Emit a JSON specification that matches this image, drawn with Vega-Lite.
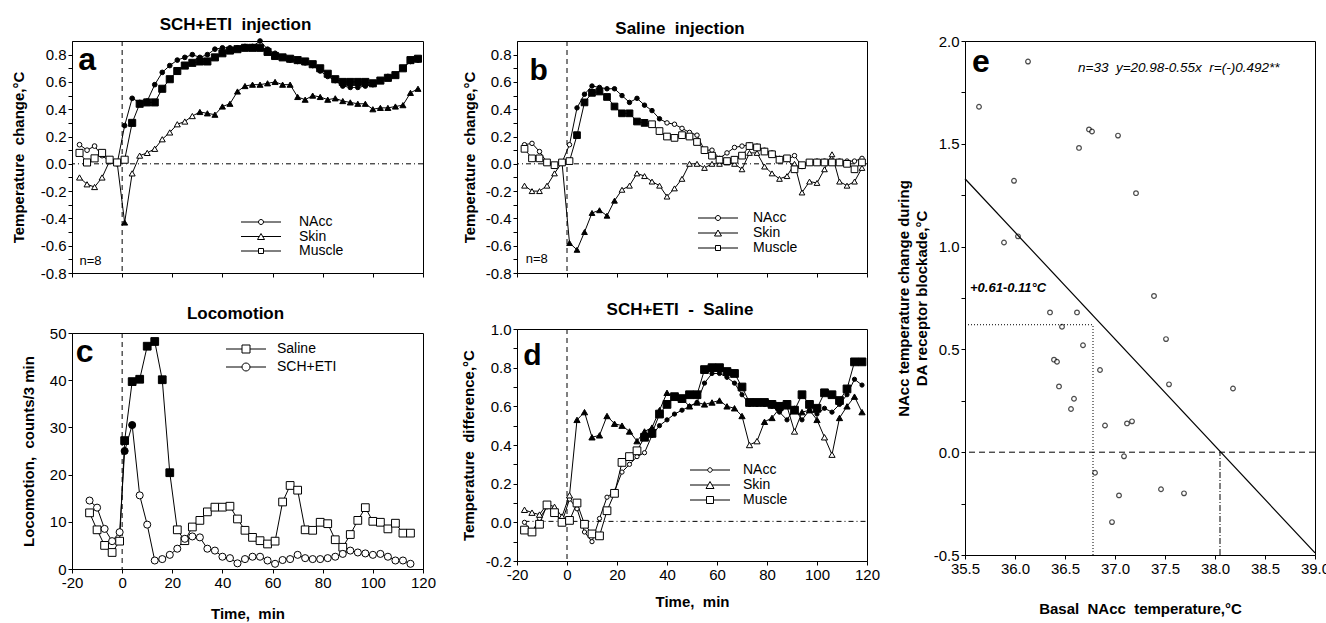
{
"$schema":"https://vega.github.io/schema/vega-lite/v6.json",
"padding":{"left":10,"top":12,"right":0,"bottom":0},
"datasets":{
"pa":[
{"s":"NAcc","t":-17,"v":0.14,"f":0},{"s":"NAcc","t":-14,"v":0.10,"f":0},{"s":"NAcc","t":-11,"v":0.13,"f":0},{"s":"NAcc","t":-8,"v":0.06,"f":0},{"s":"NAcc","t":-5,"v":0.02,"f":0},{"s":"NAcc","t":-2,"v":0.00,"f":0},{"s":"NAcc","t":1,"v":0.28,"f":1},{"s":"NAcc","t":4,"v":0.48,"f":1},{"s":"NAcc","t":7,"v":0.45,"f":1},{"s":"NAcc","t":10,"v":0.46,"f":1},{"s":"NAcc","t":13,"v":0.58,"f":1},{"s":"NAcc","t":16,"v":0.67,"f":1},{"s":"NAcc","t":19,"v":0.72,"f":1},{"s":"NAcc","t":22,"v":0.76,"f":1},{"s":"NAcc","t":25,"v":0.78,"f":1},{"s":"NAcc","t":28,"v":0.80,"f":1},{"s":"NAcc","t":31,"v":0.78,"f":1},{"s":"NAcc","t":34,"v":0.80,"f":1},{"s":"NAcc","t":37,"v":0.84,"f":1},{"s":"NAcc","t":40,"v":0.85,"f":1},{"s":"NAcc","t":43,"v":0.85,"f":1},{"s":"NAcc","t":46,"v":0.85,"f":1},{"s":"NAcc","t":49,"v":0.86,"f":1},{"s":"NAcc","t":52,"v":0.86,"f":1},{"s":"NAcc","t":55,"v":0.90,"f":1},{"s":"NAcc","t":58,"v":0.84,"f":1},{"s":"NAcc","t":61,"v":0.81,"f":1},{"s":"NAcc","t":64,"v":0.78,"f":1},{"s":"NAcc","t":67,"v":0.76,"f":1},{"s":"NAcc","t":70,"v":0.75,"f":1},{"s":"NAcc","t":73,"v":0.74,"f":1},{"s":"NAcc","t":76,"v":0.72,"f":1},{"s":"NAcc","t":79,"v":0.68,"f":1},{"s":"NAcc","t":82,"v":0.64,"f":1},{"s":"NAcc","t":85,"v":0.61,"f":1},{"s":"NAcc","t":88,"v":0.57,"f":1},{"s":"NAcc","t":91,"v":0.56,"f":1},{"s":"NAcc","t":94,"v":0.56,"f":1},{"s":"NAcc","t":97,"v":0.57,"f":1},{"s":"NAcc","t":100,"v":0.58,"f":1},{"s":"NAcc","t":103,"v":0.61,"f":1},{"s":"NAcc","t":106,"v":0.64,"f":1},{"s":"NAcc","t":109,"v":0.65,"f":1},{"s":"NAcc","t":112,"v":0.70,"f":1},{"s":"NAcc","t":115,"v":0.75,"f":1},{"s":"NAcc","t":118,"v":0.76,"f":1},
{"s":"Skin","t":-17,"v":-0.10,"f":0},{"s":"Skin","t":-14,"v":-0.15,"f":0},{"s":"Skin","t":-11,"v":-0.17,"f":0},{"s":"Skin","t":-8,"v":-0.10,"f":0},{"s":"Skin","t":-5,"v":0.02,"f":0},{"s":"Skin","t":-2,"v":0.01,"f":0},{"s":"Skin","t":1,"v":-0.43,"f":1},{"s":"Skin","t":4,"v":-0.07,"f":0},{"s":"Skin","t":7,"v":0.06,"f":0},{"s":"Skin","t":10,"v":0.08,"f":0},{"s":"Skin","t":13,"v":0.11,"f":0},{"s":"Skin","t":16,"v":0.18,"f":0},{"s":"Skin","t":19,"v":0.23,"f":0},{"s":"Skin","t":22,"v":0.29,"f":0},{"s":"Skin","t":25,"v":0.31,"f":0},{"s":"Skin","t":28,"v":0.35,"f":0},{"s":"Skin","t":31,"v":0.38,"f":1},{"s":"Skin","t":34,"v":0.37,"f":1},{"s":"Skin","t":37,"v":0.36,"f":1},{"s":"Skin","t":40,"v":0.42,"f":1},{"s":"Skin","t":43,"v":0.44,"f":1},{"s":"Skin","t":46,"v":0.53,"f":1},{"s":"Skin","t":49,"v":0.57,"f":1},{"s":"Skin","t":52,"v":0.58,"f":1},{"s":"Skin","t":55,"v":0.58,"f":1},{"s":"Skin","t":58,"v":0.59,"f":1},{"s":"Skin","t":61,"v":0.60,"f":1},{"s":"Skin","t":64,"v":0.58,"f":1},{"s":"Skin","t":67,"v":0.58,"f":1},{"s":"Skin","t":70,"v":0.49,"f":1},{"s":"Skin","t":73,"v":0.47,"f":1},{"s":"Skin","t":76,"v":0.50,"f":1},{"s":"Skin","t":79,"v":0.49,"f":1},{"s":"Skin","t":82,"v":0.47,"f":1},{"s":"Skin","t":85,"v":0.48,"f":1},{"s":"Skin","t":88,"v":0.46,"f":1},{"s":"Skin","t":91,"v":0.45,"f":1},{"s":"Skin","t":94,"v":0.44,"f":1},{"s":"Skin","t":97,"v":0.44,"f":1},{"s":"Skin","t":100,"v":0.40,"f":1},{"s":"Skin","t":103,"v":0.41,"f":1},{"s":"Skin","t":106,"v":0.41,"f":1},{"s":"Skin","t":109,"v":0.42,"f":1},{"s":"Skin","t":112,"v":0.43,"f":1},{"s":"Skin","t":115,"v":0.52,"f":1},{"s":"Skin","t":118,"v":0.55,"f":1},
{"s":"Muscle","t":-17,"v":0.08,"f":0},{"s":"Muscle","t":-14,"v":0.01,"f":0},{"s":"Muscle","t":-11,"v":0.04,"f":0},{"s":"Muscle","t":-8,"v":0.08,"f":0},{"s":"Muscle","t":-5,"v":0.03,"f":0},{"s":"Muscle","t":-2,"v":0.01,"f":0},{"s":"Muscle","t":1,"v":0.03,"f":0},{"s":"Muscle","t":4,"v":0.30,"f":1},{"s":"Muscle","t":7,"v":0.44,"f":1},{"s":"Muscle","t":10,"v":0.45,"f":1},{"s":"Muscle","t":13,"v":0.45,"f":1},{"s":"Muscle","t":16,"v":0.55,"f":1},{"s":"Muscle","t":19,"v":0.62,"f":1},{"s":"Muscle","t":22,"v":0.68,"f":1},{"s":"Muscle","t":25,"v":0.72,"f":1},{"s":"Muscle","t":28,"v":0.74,"f":1},{"s":"Muscle","t":31,"v":0.75,"f":1},{"s":"Muscle","t":34,"v":0.75,"f":1},{"s":"Muscle","t":37,"v":0.78,"f":1},{"s":"Muscle","t":40,"v":0.81,"f":1},{"s":"Muscle","t":43,"v":0.83,"f":1},{"s":"Muscle","t":46,"v":0.84,"f":1},{"s":"Muscle","t":49,"v":0.85,"f":1},{"s":"Muscle","t":52,"v":0.85,"f":1},{"s":"Muscle","t":55,"v":0.85,"f":1},{"s":"Muscle","t":58,"v":0.82,"f":1},{"s":"Muscle","t":61,"v":0.79,"f":1},{"s":"Muscle","t":64,"v":0.78,"f":1},{"s":"Muscle","t":67,"v":0.77,"f":1},{"s":"Muscle","t":70,"v":0.76,"f":1},{"s":"Muscle","t":73,"v":0.75,"f":1},{"s":"Muscle","t":76,"v":0.73,"f":1},{"s":"Muscle","t":79,"v":0.70,"f":1},{"s":"Muscle","t":82,"v":0.66,"f":1},{"s":"Muscle","t":85,"v":0.62,"f":1},{"s":"Muscle","t":88,"v":0.60,"f":1},{"s":"Muscle","t":91,"v":0.60,"f":1},{"s":"Muscle","t":94,"v":0.60,"f":1},{"s":"Muscle","t":97,"v":0.60,"f":1},{"s":"Muscle","t":100,"v":0.59,"f":1},{"s":"Muscle","t":103,"v":0.61,"f":1},{"s":"Muscle","t":106,"v":0.63,"f":1},{"s":"Muscle","t":109,"v":0.65,"f":1},{"s":"Muscle","t":112,"v":0.70,"f":1},{"s":"Muscle","t":115,"v":0.76,"f":1},{"s":"Muscle","t":118,"v":0.77,"f":1}
],
"pb":[
{"s":"NAcc","t":-17,"v":0.14,"f":0},{"s":"NAcc","t":-14,"v":0.15,"f":0},{"s":"NAcc","t":-11,"v":0.09,"f":0},{"s":"NAcc","t":-8,"v":0.01,"f":0},{"s":"NAcc","t":-5,"v":-0.01,"f":0},{"s":"NAcc","t":-2,"v":0.01,"f":0},{"s":"NAcc","t":1,"v":0.14,"f":0},{"s":"NAcc","t":4,"v":0.41,"f":1},{"s":"NAcc","t":7,"v":0.51,"f":1},{"s":"NAcc","t":10,"v":0.57,"f":1},{"s":"NAcc","t":13,"v":0.56,"f":1},{"s":"NAcc","t":16,"v":0.55,"f":1},{"s":"NAcc","t":19,"v":0.55,"f":1},{"s":"NAcc","t":22,"v":0.50,"f":1},{"s":"NAcc","t":25,"v":0.45,"f":1},{"s":"NAcc","t":28,"v":0.48,"f":1},{"s":"NAcc","t":31,"v":0.43,"f":1},{"s":"NAcc","t":34,"v":0.39,"f":1},{"s":"NAcc","t":37,"v":0.33,"f":1},{"s":"NAcc","t":40,"v":0.30,"f":0},{"s":"NAcc","t":43,"v":0.29,"f":0},{"s":"NAcc","t":46,"v":0.26,"f":0},{"s":"NAcc","t":49,"v":0.23,"f":0},{"s":"NAcc","t":52,"v":0.21,"f":0},{"s":"NAcc","t":55,"v":0.10,"f":0},{"s":"NAcc","t":58,"v":0.10,"f":0},{"s":"NAcc","t":61,"v":0.04,"f":0},{"s":"NAcc","t":64,"v":0.08,"f":0},{"s":"NAcc","t":67,"v":0.12,"f":0},{"s":"NAcc","t":70,"v":0.13,"f":0},{"s":"NAcc","t":73,"v":0.14,"f":0},{"s":"NAcc","t":76,"v":0.13,"f":0},{"s":"NAcc","t":79,"v":0.10,"f":0},{"s":"NAcc","t":82,"v":0.08,"f":0},{"s":"NAcc","t":85,"v":0.04,"f":0},{"s":"NAcc","t":88,"v":0.03,"f":0},{"s":"NAcc","t":91,"v":0.06,"f":0},{"s":"NAcc","t":94,"v":-0.02,"f":0},{"s":"NAcc","t":97,"v":0.01,"f":0},{"s":"NAcc","t":100,"v":0.02,"f":0},{"s":"NAcc","t":103,"v":0.02,"f":0},{"s":"NAcc","t":106,"v":0.02,"f":0},{"s":"NAcc","t":109,"v":0.02,"f":0},{"s":"NAcc","t":112,"v":0.02,"f":0},{"s":"NAcc","t":115,"v":0.02,"f":0},{"s":"NAcc","t":118,"v":0.04,"f":0},
{"s":"Skin","t":-17,"v":-0.16,"f":0},{"s":"Skin","t":-14,"v":-0.20,"f":0},{"s":"Skin","t":-11,"v":-0.20,"f":0},{"s":"Skin","t":-8,"v":-0.16,"f":0},{"s":"Skin","t":-5,"v":-0.07,"f":0},{"s":"Skin","t":-2,"v":0.01,"f":0},{"s":"Skin","t":1,"v":-0.58,"f":1},{"s":"Skin","t":4,"v":-0.63,"f":1},{"s":"Skin","t":7,"v":-0.50,"f":1},{"s":"Skin","t":10,"v":-0.36,"f":1},{"s":"Skin","t":13,"v":-0.34,"f":1},{"s":"Skin","t":16,"v":-0.38,"f":1},{"s":"Skin","t":19,"v":-0.27,"f":1},{"s":"Skin","t":22,"v":-0.19,"f":0},{"s":"Skin","t":25,"v":-0.16,"f":0},{"s":"Skin","t":28,"v":-0.07,"f":0},{"s":"Skin","t":31,"v":-0.09,"f":0},{"s":"Skin","t":34,"v":-0.13,"f":0},{"s":"Skin","t":37,"v":-0.16,"f":0},{"s":"Skin","t":40,"v":-0.24,"f":0},{"s":"Skin","t":43,"v":-0.18,"f":0},{"s":"Skin","t":46,"v":-0.11,"f":0},{"s":"Skin","t":49,"v":0.00,"f":0},{"s":"Skin","t":52,"v":0.00,"f":0},{"s":"Skin","t":55,"v":-0.03,"f":0},{"s":"Skin","t":58,"v":0.00,"f":0},{"s":"Skin","t":61,"v":0.00,"f":0},{"s":"Skin","t":64,"v":0.01,"f":0},{"s":"Skin","t":67,"v":0.00,"f":0},{"s":"Skin","t":70,"v":-0.04,"f":0},{"s":"Skin","t":73,"v":0.08,"f":0},{"s":"Skin","t":76,"v":0.08,"f":0},{"s":"Skin","t":79,"v":-0.02,"f":0},{"s":"Skin","t":82,"v":-0.07,"f":0},{"s":"Skin","t":85,"v":-0.11,"f":0},{"s":"Skin","t":88,"v":-0.09,"f":0},{"s":"Skin","t":91,"v":0.00,"f":0},{"s":"Skin","t":94,"v":-0.21,"f":0},{"s":"Skin","t":97,"v":-0.13,"f":0},{"s":"Skin","t":100,"v":-0.14,"f":0},{"s":"Skin","t":103,"v":-0.04,"f":0},{"s":"Skin","t":106,"v":0.07,"f":0},{"s":"Skin","t":109,"v":-0.13,"f":0},{"s":"Skin","t":112,"v":-0.16,"f":0},{"s":"Skin","t":115,"v":-0.13,"f":0},{"s":"Skin","t":118,"v":-0.03,"f":0},
{"s":"Muscle","t":-17,"v":0.11,"f":0},{"s":"Muscle","t":-14,"v":0.04,"f":0},{"s":"Muscle","t":-11,"v":0.04,"f":0},{"s":"Muscle","t":-8,"v":0.01,"f":0},{"s":"Muscle","t":-5,"v":-0.01,"f":0},{"s":"Muscle","t":-2,"v":0.01,"f":0},{"s":"Muscle","t":1,"v":0.02,"f":0},{"s":"Muscle","t":4,"v":0.21,"f":1},{"s":"Muscle","t":7,"v":0.45,"f":1},{"s":"Muscle","t":10,"v":0.52,"f":1},{"s":"Muscle","t":13,"v":0.53,"f":1},{"s":"Muscle","t":16,"v":0.49,"f":1},{"s":"Muscle","t":19,"v":0.42,"f":1},{"s":"Muscle","t":22,"v":0.37,"f":1},{"s":"Muscle","t":25,"v":0.37,"f":1},{"s":"Muscle","t":28,"v":0.31,"f":1},{"s":"Muscle","t":31,"v":0.30,"f":1},{"s":"Muscle","t":34,"v":0.29,"f":0},{"s":"Muscle","t":37,"v":0.24,"f":0},{"s":"Muscle","t":40,"v":0.20,"f":0},{"s":"Muscle","t":43,"v":0.19,"f":0},{"s":"Muscle","t":46,"v":0.21,"f":0},{"s":"Muscle","t":49,"v":0.20,"f":0},{"s":"Muscle","t":52,"v":0.16,"f":0},{"s":"Muscle","t":55,"v":0.10,"f":0},{"s":"Muscle","t":58,"v":0.06,"f":0},{"s":"Muscle","t":61,"v":0.03,"f":0},{"s":"Muscle","t":64,"v":0.02,"f":0},{"s":"Muscle","t":67,"v":0.03,"f":0},{"s":"Muscle","t":70,"v":0.06,"f":0},{"s":"Muscle","t":73,"v":0.13,"f":0},{"s":"Muscle","t":76,"v":0.12,"f":0},{"s":"Muscle","t":79,"v":0.09,"f":0},{"s":"Muscle","t":82,"v":0.07,"f":0},{"s":"Muscle","t":85,"v":0.03,"f":0},{"s":"Muscle","t":88,"v":0.04,"f":0},{"s":"Muscle","t":91,"v":-0.04,"f":0},{"s":"Muscle","t":94,"v":-0.01,"f":0},{"s":"Muscle","t":97,"v":0.01,"f":0},{"s":"Muscle","t":100,"v":0.01,"f":0},{"s":"Muscle","t":103,"v":0.01,"f":0},{"s":"Muscle","t":106,"v":0.01,"f":0},{"s":"Muscle","t":109,"v":0.01,"f":0},{"s":"Muscle","t":112,"v":0.00,"f":0},{"s":"Muscle","t":115,"v":-0.04,"f":0},{"s":"Muscle","t":118,"v":0.01,"f":0}
],
"pc":[
{"s":"Saline","t":-13,"v":11.9,"f":0},{"s":"Saline","t":-10,"v":8.3,"f":0},{"s":"Saline","t":-7,"v":5.0,"f":0},{"s":"Saline","t":-4,"v":3.5,"f":0},{"s":"Saline","t":-1,"v":5.9,"f":0},{"s":"Saline","t":1,"v":27.2,"f":1},{"s":"Saline","t":4,"v":39.7,"f":1},{"s":"Saline","t":7,"v":40.2,"f":1},{"s":"Saline","t":10,"v":47.2,"f":1},{"s":"Saline","t":13,"v":48.2,"f":1},{"s":"Saline","t":16,"v":40.1,"f":1},{"s":"Saline","t":19,"v":20.4,"f":1},{"s":"Saline","t":22,"v":8.3,"f":0},{"s":"Saline","t":25,"v":6.0,"f":0},{"s":"Saline","t":28,"v":8.9,"f":0},{"s":"Saline","t":31,"v":10.3,"f":0},{"s":"Saline","t":34,"v":12.1,"f":0},{"s":"Saline","t":37,"v":13.1,"f":0},{"s":"Saline","t":40,"v":13.1,"f":0},{"s":"Saline","t":43,"v":13.3,"f":0},{"s":"Saline","t":46,"v":10.6,"f":0},{"s":"Saline","t":49,"v":8.2,"f":0},{"s":"Saline","t":52,"v":6.7,"f":0},{"s":"Saline","t":55,"v":6.0,"f":0},{"s":"Saline","t":58,"v":5.3,"f":0},{"s":"Saline","t":61,"v":5.9,"f":0},{"s":"Saline","t":64,"v":14.2,"f":0},{"s":"Saline","t":67,"v":17.7,"f":0},{"s":"Saline","t":70,"v":16.7,"f":0},{"s":"Saline","t":73,"v":8.3,"f":0},{"s":"Saline","t":76,"v":8.2,"f":0},{"s":"Saline","t":79,"v":9.9,"f":0},{"s":"Saline","t":82,"v":9.6,"f":0},{"s":"Saline","t":85,"v":6.2,"f":0},{"s":"Saline","t":88,"v":4.6,"f":0},{"s":"Saline","t":91,"v":7.3,"f":0},{"s":"Saline","t":94,"v":10.3,"f":0},{"s":"Saline","t":97,"v":13.0,"f":0},{"s":"Saline","t":100,"v":10.1,"f":0},{"s":"Saline","t":103,"v":9.9,"f":0},{"s":"Saline","t":106,"v":8.5,"f":0},{"s":"Saline","t":109,"v":9.7,"f":0},{"s":"Saline","t":112,"v":7.6,"f":0},{"s":"Saline","t":115,"v":7.6,"f":0},
{"s":"SCH+ETI","t":-13,"v":14.5,"f":0},{"s":"SCH+ETI","t":-10,"v":13.0,"f":0},{"s":"SCH+ETI","t":-7,"v":8.5,"f":0},{"s":"SCH+ETI","t":-4,"v":5.9,"f":0},{"s":"SCH+ETI","t":-1,"v":7.8,"f":0},{"s":"SCH+ETI","t":1,"v":25.0,"f":1},{"s":"SCH+ETI","t":4,"v":30.5,"f":1},{"s":"SCH+ETI","t":7,"v":15.6,"f":0},{"s":"SCH+ETI","t":10,"v":9.4,"f":0},{"s":"SCH+ETI","t":13,"v":1.8,"f":0},{"s":"SCH+ETI","t":16,"v":2.1,"f":0},{"s":"SCH+ETI","t":19,"v":3.0,"f":0},{"s":"SCH+ETI","t":22,"v":4.3,"f":0},{"s":"SCH+ETI","t":25,"v":6.4,"f":0},{"s":"SCH+ETI","t":28,"v":6.9,"f":0},{"s":"SCH+ETI","t":31,"v":6.7,"f":0},{"s":"SCH+ETI","t":34,"v":4.3,"f":0},{"s":"SCH+ETI","t":37,"v":3.9,"f":0},{"s":"SCH+ETI","t":40,"v":2.6,"f":0},{"s":"SCH+ETI","t":43,"v":2.3,"f":0},{"s":"SCH+ETI","t":46,"v":1.2,"f":0},{"s":"SCH+ETI","t":49,"v":2.1,"f":0},{"s":"SCH+ETI","t":52,"v":2.6,"f":0},{"s":"SCH+ETI","t":55,"v":2.6,"f":0},{"s":"SCH+ETI","t":58,"v":1.8,"f":0},{"s":"SCH+ETI","t":61,"v":1.1,"f":0},{"s":"SCH+ETI","t":64,"v":1.9,"f":0},{"s":"SCH+ETI","t":67,"v":2.1,"f":0},{"s":"SCH+ETI","t":70,"v":3.0,"f":0},{"s":"SCH+ETI","t":73,"v":2.3,"f":0},{"s":"SCH+ETI","t":76,"v":2.1,"f":0},{"s":"SCH+ETI","t":79,"v":2.1,"f":0},{"s":"SCH+ETI","t":82,"v":2.3,"f":0},{"s":"SCH+ETI","t":85,"v":2.6,"f":0},{"s":"SCH+ETI","t":88,"v":3.2,"f":0},{"s":"SCH+ETI","t":91,"v":3.9,"f":0},{"s":"SCH+ETI","t":94,"v":3.5,"f":0},{"s":"SCH+ETI","t":97,"v":3.3,"f":0},{"s":"SCH+ETI","t":100,"v":3.0,"f":0},{"s":"SCH+ETI","t":103,"v":3.2,"f":0},{"s":"SCH+ETI","t":106,"v":2.6,"f":0},{"s":"SCH+ETI","t":109,"v":1.8,"f":0},{"s":"SCH+ETI","t":112,"v":1.8,"f":0},{"s":"SCH+ETI","t":115,"v":1.1,"f":0}
],
"pd":[
{"s":"NAcc","t":-17,"v":0.00,"f":0},{"s":"NAcc","t":-14,"v":-0.05,"f":0},{"s":"NAcc","t":-11,"v":0.02,"f":0},{"s":"NAcc","t":-8,"v":0.08,"f":0},{"s":"NAcc","t":-5,"v":0.06,"f":0},{"s":"NAcc","t":-2,"v":0.00,"f":0},{"s":"NAcc","t":1,"v":0.12,"f":0},{"s":"NAcc","t":4,"v":0.07,"f":0},{"s":"NAcc","t":7,"v":-0.05,"f":0},{"s":"NAcc","t":10,"v":-0.10,"f":0},{"s":"NAcc","t":13,"v":0.02,"f":0},{"s":"NAcc","t":16,"v":0.13,"f":0},{"s":"NAcc","t":19,"v":0.16,"f":0},{"s":"NAcc","t":22,"v":0.26,"f":0},{"s":"NAcc","t":25,"v":0.30,"f":0},{"s":"NAcc","t":28,"v":0.34,"f":0},{"s":"NAcc","t":31,"v":0.36,"f":0},{"s":"NAcc","t":34,"v":0.45,"f":1},{"s":"NAcc","t":37,"v":0.50,"f":1},{"s":"NAcc","t":40,"v":0.53,"f":1},{"s":"NAcc","t":43,"v":0.56,"f":1},{"s":"NAcc","t":46,"v":0.58,"f":1},{"s":"NAcc","t":49,"v":0.60,"f":1},{"s":"NAcc","t":52,"v":0.62,"f":1},{"s":"NAcc","t":55,"v":0.72,"f":1},{"s":"NAcc","t":58,"v":0.77,"f":1},{"s":"NAcc","t":61,"v":0.77,"f":1},{"s":"NAcc","t":64,"v":0.75,"f":1},{"s":"NAcc","t":67,"v":0.72,"f":1},{"s":"NAcc","t":70,"v":0.66,"f":1},{"s":"NAcc","t":73,"v":0.61,"f":1},{"s":"NAcc","t":76,"v":0.61,"f":1},{"s":"NAcc","t":79,"v":0.61,"f":1},{"s":"NAcc","t":82,"v":0.60,"f":1},{"s":"NAcc","t":85,"v":0.57,"f":1},{"s":"NAcc","t":88,"v":0.53,"f":1},{"s":"NAcc","t":91,"v":0.59,"f":1},{"s":"NAcc","t":94,"v":0.53,"f":1},{"s":"NAcc","t":97,"v":0.58,"f":1},{"s":"NAcc","t":100,"v":0.56,"f":1},{"s":"NAcc","t":103,"v":0.59,"f":1},{"s":"NAcc","t":106,"v":0.57,"f":1},{"s":"NAcc","t":109,"v":0.61,"f":1},{"s":"NAcc","t":112,"v":0.66,"f":1},{"s":"NAcc","t":115,"v":0.74,"f":1},{"s":"NAcc","t":118,"v":0.71,"f":1},
{"s":"Skin","t":-17,"v":0.065,"f":0},{"s":"Skin","t":-14,"v":0.05,"f":0},{"s":"Skin","t":-11,"v":0.04,"f":0},{"s":"Skin","t":-8,"v":0.095,"f":0},{"s":"Skin","t":-5,"v":0.08,"f":0},{"s":"Skin","t":-2,"v":0.03,"f":0},{"s":"Skin","t":1,"v":0.14,"f":0},{"s":"Skin","t":4,"v":0.53,"f":1},{"s":"Skin","t":7,"v":0.57,"f":1},{"s":"Skin","t":10,"v":0.44,"f":1},{"s":"Skin","t":13,"v":0.45,"f":1},{"s":"Skin","t":16,"v":0.55,"f":1},{"s":"Skin","t":19,"v":0.51,"f":1},{"s":"Skin","t":22,"v":0.50,"f":1},{"s":"Skin","t":25,"v":0.47,"f":1},{"s":"Skin","t":28,"v":0.42,"f":1},{"s":"Skin","t":31,"v":0.47,"f":1},{"s":"Skin","t":34,"v":0.49,"f":1},{"s":"Skin","t":37,"v":0.58,"f":1},{"s":"Skin","t":40,"v":0.67,"f":1},{"s":"Skin","t":43,"v":0.65,"f":1},{"s":"Skin","t":46,"v":0.64,"f":1},{"s":"Skin","t":49,"v":0.60,"f":1},{"s":"Skin","t":52,"v":0.62,"f":1},{"s":"Skin","t":55,"v":0.61,"f":1},{"s":"Skin","t":58,"v":0.62,"f":1},{"s":"Skin","t":61,"v":0.63,"f":1},{"s":"Skin","t":64,"v":0.60,"f":1},{"s":"Skin","t":67,"v":0.59,"f":1},{"s":"Skin","t":70,"v":0.55,"f":1},{"s":"Skin","t":73,"v":0.40,"f":0},{"s":"Skin","t":76,"v":0.42,"f":0},{"s":"Skin","t":79,"v":0.52,"f":1},{"s":"Skin","t":82,"v":0.54,"f":1},{"s":"Skin","t":85,"v":0.59,"f":1},{"s":"Skin","t":88,"v":0.60,"f":1},{"s":"Skin","t":91,"v":0.47,"f":0},{"s":"Skin","t":94,"v":0.57,"f":1},{"s":"Skin","t":97,"v":0.58,"f":1},{"s":"Skin","t":100,"v":0.53,"f":1},{"s":"Skin","t":103,"v":0.44,"f":0},{"s":"Skin","t":106,"v":0.35,"f":0},{"s":"Skin","t":109,"v":0.54,"f":1},{"s":"Skin","t":112,"v":0.60,"f":1},{"s":"Skin","t":115,"v":0.65,"f":1},{"s":"Skin","t":118,"v":0.57,"f":1},
{"s":"Muscle","t":-17,"v":-0.04,"f":0},{"s":"Muscle","t":-14,"v":-0.05,"f":0},{"s":"Muscle","t":-11,"v":-0.01,"f":0},{"s":"Muscle","t":-8,"v":0.09,"f":0},{"s":"Muscle","t":-5,"v":0.05,"f":0},{"s":"Muscle","t":-2,"v":0.00,"f":0},{"s":"Muscle","t":1,"v":0.01,"f":0},{"s":"Muscle","t":4,"v":0.10,"f":0},{"s":"Muscle","t":7,"v":-0.01,"f":0},{"s":"Muscle","t":10,"v":-0.06,"f":0},{"s":"Muscle","t":13,"v":-0.07,"f":0},{"s":"Muscle","t":16,"v":0.06,"f":0},{"s":"Muscle","t":19,"v":0.15,"f":0},{"s":"Muscle","t":22,"v":0.31,"f":0},{"s":"Muscle","t":25,"v":0.34,"f":0},{"s":"Muscle","t":28,"v":0.37,"f":0},{"s":"Muscle","t":31,"v":0.44,"f":1},{"s":"Muscle","t":34,"v":0.46,"f":1},{"s":"Muscle","t":37,"v":0.56,"f":1},{"s":"Muscle","t":40,"v":0.61,"f":1},{"s":"Muscle","t":43,"v":0.65,"f":1},{"s":"Muscle","t":46,"v":0.64,"f":1},{"s":"Muscle","t":49,"v":0.66,"f":1},{"s":"Muscle","t":52,"v":0.66,"f":1},{"s":"Muscle","t":55,"v":0.79,"f":1},{"s":"Muscle","t":58,"v":0.80,"f":1},{"s":"Muscle","t":61,"v":0.80,"f":1},{"s":"Muscle","t":64,"v":0.78,"f":1},{"s":"Muscle","t":67,"v":0.77,"f":1},{"s":"Muscle","t":70,"v":0.70,"f":1},{"s":"Muscle","t":73,"v":0.62,"f":1},{"s":"Muscle","t":76,"v":0.62,"f":1},{"s":"Muscle","t":79,"v":0.62,"f":1},{"s":"Muscle","t":82,"v":0.61,"f":1},{"s":"Muscle","t":85,"v":0.60,"f":1},{"s":"Muscle","t":88,"v":0.61,"f":1},{"s":"Muscle","t":91,"v":0.58,"f":1},{"s":"Muscle","t":94,"v":0.66,"f":1},{"s":"Muscle","t":97,"v":0.61,"f":1},{"s":"Muscle","t":100,"v":0.59,"f":1},{"s":"Muscle","t":103,"v":0.67,"f":1},{"s":"Muscle","t":106,"v":0.66,"f":1},{"s":"Muscle","t":109,"v":0.63,"f":1},{"s":"Muscle","t":112,"v":0.69,"f":1},{"s":"Muscle","t":115,"v":0.83,"f":1},{"s":"Muscle","t":118,"v":0.83,"f":1}
],
"pe":[
{"basal":35.64,"change":1.68},{"basal":36.13,"change":1.90},{"basal":35.89,"change":1.02},{"basal":35.99,"change":1.32},{"basal":36.03,"change":1.05},{"basal":36.64,"change":1.48},{"basal":36.74,"change":1.57},{"basal":36.77,"change":1.56},{"basal":37.03,"change":1.54},{"basal":37.21,"change":1.26},{"basal":36.35,"change":0.68},{"basal":36.62,"change":0.68},{"basal":36.47,"change":0.61},{"basal":36.68,"change":0.52},{"basal":36.39,"change":0.45},{"basal":36.42,"change":0.44},{"basal":36.44,"change":0.32},{"basal":36.59,"change":0.26},{"basal":36.56,"change":0.21},{"basal":36.85,"change":0.40},{"basal":36.90,"change":0.13},{"basal":37.12,"change":0.14},{"basal":37.17,"change":0.15},{"basal":37.09,"change":-0.02},{"basal":36.80,"change":-0.10},{"basal":37.04,"change":-0.21},{"basal":36.97,"change":-0.34},{"basal":37.39,"change":0.76},{"basal":37.51,"change":0.55},{"basal":37.54,"change":0.33},{"basal":37.46,"change":-0.18},{"basal":37.69,"change":-0.20},{"basal":38.18,"change":0.31}
],
"fit":[{"basal":35.5,"change":1.33},{"basal":39.0,"change":-0.49}]
},
"hconcat":[
{"hconcat":[
{"vconcat":[
{"width":351,"height":232,
"title":{"text":"SCH+ETI\u00a0 injection","dx":-12},
"layer":[
{"data":{"name":"pa"},"mark":{"type":"line","color":"black","strokeWidth":1},"encoding":{
"x":{"field":"t","type":"quantitative","scale":{"domain":[-20,120],"nice":false,"zero":false},"axis":{"values":[-20,-10,0,10,20,30,40,50,60,70,80,90,100,110,120],"labels":false,"title":null}},
"y":{"field":"v","type":"quantitative","scale":{"domain":[-0.8,0.9],"nice":false,"zero":false},"axis":{"orient":"left","values":[-0.8,-0.6,-0.4,-0.2,0,0.2,0.4,0.6,0.8],"format":".1f","title":"Temperature\u00a0 change,°C","titlePadding":14}},
"detail":{"field":"s"}}},
{"data":{"values":[{}]},"mark":{"type":"rule","strokeDash":[5,3,1,3],"color":"black","strokeWidth":1},"encoding":{"y":{"datum":0,"axis":{"orient":"left","values":[-0.7,-0.5,-0.3,-0.1,0.1,0.3,0.5,0.7],"labels":false,"domain":false,"title":null}}}},
{"data":{"values":[{}]},"mark":{"type":"rule","strokeDash":[5,4],"color":"black","strokeWidth":1},"encoding":{"x":{"datum":0}}},
{"data":{"name":"pa"},"mark":{"type":"point","filled":true,"stroke":"black","strokeWidth":1,"opacity":1},"encoding":{
"x":{"field":"t","type":"quantitative"},"y":{"field":"v","type":"quantitative","axis":null},
"shape":{"field":"s","type":"nominal","scale":{"domain":["NAcc","Skin","Muscle"],"range":["circle","triangle-up","square"]},"legend":null},
"size":{"field":"s","type":"nominal","scale":{"domain":["NAcc","Skin","Muscle"],"range":[22,50,28]},"legend":null},
"fill":{"field":"f","type":"nominal","scale":{"domain":[0,1],"range":["white","black"]},"legend":null}}},
{"data":{"name":"pa"},"transform":[{"filter":"false"}],"mark":{"type":"point","filled":false,"color":"black","strokeWidth":1,"size":100},"encoding":{
"x":{"field":"t","type":"quantitative"},"y":{"field":"v","type":"quantitative","axis":null},
"shape":{"field":"s","type":"nominal","scale":{"domain":["NAcc","Skin","Muscle"],"range":["M-4,0H-0.5M0.5,0H4M-0.5,0A0.5,0.5,0,1,1,0.5,0A0.5,0.5,0,1,1,-0.5,0Z","M-4,0H-0.35M0.35,0H4M-0.7,0.6L0,-0.6L0.7,0.6Z","M-4,0H-0.5M0.5,0H4M-0.5,-0.5H0.5V0.5H-0.5Z"]},"legend":{"title":null,"orient":"none","legendX":182,"legendY":174,"labelOffset":31,"rowPadding":0.5,"symbolSize":100,"symbolOpacity":1,"symbolStrokeColor":"black","symbolStrokeWidth":1}}}},
{"data":{"values":[{}]},"mark":{"type":"text","text":"a","fontSize":32,"fontWeight":"bold","align":"left","baseline":"middle","color":"black"},"encoding":{"x":{"datum":-17.5},"y":{"datum":0.76,"axis":null}}},
{"data":{"values":[{}]},"mark":{"type":"text","text":"n=8","fontSize":13,"align":"left","baseline":"middle","color":"black"},"encoding":{"x":{"datum":-17},"y":{"datum":-0.71,"axis":null}}}
],
"resolve":{"scale":{"shape":"independent","size":"independent","fill":"independent"},"legend":{"shape":"independent"},"axis":{"y":"independent"}}},
{"width":351,"height":236,
"title":{"text":"Locomotion","dx":-12},
"layer":[
{"data":{"name":"pc"},"mark":{"type":"line","color":"black","strokeWidth":1},"encoding":{
"x":{"field":"t","type":"quantitative","scale":{"domain":[-20,120],"nice":false,"zero":false},"axis":{"values":[-20,-10,0,10,20,30,40,50,60,70,80,90,100,110,120],"labelExpr":"datum.value % 20 == 0 ? datum.label : ''","title":"Time,\u00a0 min","titlePadding":16}},
"y":{"field":"v","type":"quantitative","scale":{"domain":[0,50],"nice":false,"zero":false},"axis":{"values":[0,10,20,30,40,50],"title":"Locomotion,\u00a0 counts/3 min","titlePadding":13}},
"detail":{"field":"s"}}},
{"data":{"values":[{}]},"mark":{"type":"rule","strokeDash":[5,4],"color":"black","strokeWidth":1},"encoding":{"x":{"datum":0}}},
{"data":{"name":"pc"},"mark":{"type":"point","filled":true,"stroke":"black","strokeWidth":1,"opacity":1},"encoding":{
"x":{"field":"t","type":"quantitative"},"y":{"field":"v","type":"quantitative"},
"shape":{"field":"s","type":"nominal","scale":{"domain":["Saline","SCH+ETI"],"range":["square","circle"]},"legend":null},
"size":{"field":"s","type":"nominal","scale":{"domain":["Saline","SCH+ETI"],"range":[60,50]},"legend":null},
"fill":{"field":"f","type":"nominal","scale":{"domain":[0,1],"range":["white","black"]},"legend":null}}},
{"data":{"name":"pc"},"transform":[{"filter":"false"}],"mark":{"type":"point","filled":false,"color":"black","strokeWidth":1,"size":100},"encoding":{
"x":{"field":"t","type":"quantitative"},"y":{"field":"v","type":"quantitative"},
"shape":{"field":"s","type":"nominal","scale":{"domain":["Saline","SCH+ETI"],"range":["M-4,0H-0.8M0.8,0H4M-0.8,-0.8H0.8V0.8H-0.8Z","M-4,0H-0.8M0.8,0H4M-0.8,0A0.8,0.8,0,1,1,0.8,0A0.8,0.8,0,1,1,-0.8,0Z"]},"legend":{"title":null,"orient":"none","legendX":167,"legendY":9,"labelOffset":24,"rowPadding":4,"symbolSize":100,"symbolOpacity":1,"symbolStrokeColor":"black","symbolStrokeWidth":1}}}},
{"data":{"values":[{}]},"mark":{"type":"text","text":"c","fontSize":32,"fontWeight":"bold","align":"left","baseline":"middle","color":"black"},"encoding":{"x":{"datum":-18.5},"y":{"datum":46}}}
],
"resolve":{"scale":{"shape":"independent","size":"independent","fill":"independent"},"legend":{"shape":"independent"}}}
],"spacing":60,"bounds":"flush"},
{"vconcat":[
{"width":350,"height":232,
"title":{"text":"Saline\u00a0 injection","dx":-12},
"layer":[
{"data":{"name":"pb"},"mark":{"type":"line","color":"black","strokeWidth":1},"encoding":{
"x":{"field":"t","type":"quantitative","scale":{"domain":[-20,120],"nice":false,"zero":false},"axis":{"values":[-20,-10,0,10,20,30,40,50,60,70,80,90,100,110,120],"labels":false,"title":null}},
"y":{"field":"v","type":"quantitative","scale":{"domain":[-0.8,0.9],"nice":false,"zero":false},"axis":{"orient":"left","values":[-0.8,-0.6,-0.4,-0.2,0,0.2,0.4,0.6,0.8],"format":".1f","title":"Temperature\u00a0 change,°C","titlePadding":8}},
"detail":{"field":"s"}}},
{"data":{"values":[{}]},"mark":{"type":"rule","strokeDash":[5,3,1,3],"color":"black","strokeWidth":1},"encoding":{"y":{"datum":0,"axis":{"orient":"left","values":[-0.7,-0.5,-0.3,-0.1,0.1,0.3,0.5,0.7],"labels":false,"domain":false,"title":null}}}},
{"data":{"values":[{}]},"mark":{"type":"rule","strokeDash":[5,4],"color":"black","strokeWidth":1},"encoding":{"x":{"datum":0}}},
{"data":{"name":"pb"},"mark":{"type":"point","filled":true,"stroke":"black","strokeWidth":1,"opacity":1},"encoding":{
"x":{"field":"t","type":"quantitative"},"y":{"field":"v","type":"quantitative","axis":null},
"shape":{"field":"s","type":"nominal","scale":{"domain":["NAcc","Skin","Muscle"],"range":["circle","triangle-up","square"]},"legend":null},
"size":{"field":"s","type":"nominal","scale":{"domain":["NAcc","Skin","Muscle"],"range":[20,45,25]},"legend":null},
"fill":{"field":"f","type":"nominal","scale":{"domain":[0,1],"range":["white","black"]},"legend":null}}},
{"data":{"name":"pb"},"transform":[{"filter":"false"}],"mark":{"type":"point","filled":false,"color":"black","strokeWidth":1,"size":100},"encoding":{
"x":{"field":"t","type":"quantitative"},"y":{"field":"v","type":"quantitative","axis":null},
"shape":{"field":"s","type":"nominal","scale":{"domain":["NAcc","Skin","Muscle"],"range":["M-4,0H-0.5M0.5,0H4M-0.5,0A0.5,0.5,0,1,1,0.5,0A0.5,0.5,0,1,1,-0.5,0Z","M-4,0H-0.35M0.35,0H4M-0.7,0.6L0,-0.6L0.7,0.6Z","M-4,0H-0.5M0.5,0H4M-0.5,-0.5H0.5V0.5H-0.5Z"]},"legend":{"title":null,"orient":"none","legendX":194,"legendY":170,"labelOffset":28,"rowPadding":1,"symbolSize":100,"symbolOpacity":1,"symbolStrokeColor":"black","symbolStrokeWidth":1}}}},
{"data":{"values":[{}]},"mark":{"type":"text","text":"b","fontSize":30,"fontWeight":"bold","align":"left","baseline":"middle","color":"black"},"encoding":{"x":{"datum":-15},"y":{"datum":0.68,"axis":null}}},
{"data":{"values":[{}]},"mark":{"type":"text","text":"n=8","fontSize":13,"align":"left","baseline":"middle","color":"black"},"encoding":{"x":{"datum":-16.5},"y":{"datum":-0.70,"axis":null}}}
],
"resolve":{"scale":{"shape":"independent","size":"independent","fill":"independent"},"legend":{"shape":"independent"},"axis":{"y":"independent"}}},
{"width":350,"height":232,
"title":{"text":"SCH+ETI\u00a0 -\u00a0 Saline","dx":-12},
"layer":[
{"data":{"name":"pd"},"mark":{"type":"line","color":"black","strokeWidth":1},"encoding":{
"x":{"field":"t","type":"quantitative","scale":{"domain":[-20,120],"nice":false,"zero":false},"axis":{"values":[-20,-10,0,10,20,30,40,50,60,70,80,90,100,110,120],"labelExpr":"datum.value % 20 == 0 ? datum.label : ''","title":"Time,\u00a0 min","titlePadding":12}},
"y":{"field":"v","type":"quantitative","scale":{"domain":[-0.2,1.0],"nice":false,"zero":false},"axis":{"orient":"left","values":[-0.2,0,0.2,0.4,0.6,0.8,1.0],"format":".1f","title":"Temperature\u00a0 difference,°C","titlePadding":9}},
"detail":{"field":"s"}}},
{"data":{"values":[{}]},"mark":{"type":"rule","strokeDash":[5,3,1,3],"color":"black","strokeWidth":1},"encoding":{"x":{"datum":-17},"x2":{"datum":120},"y":{"datum":0.005,"axis":{"orient":"left","values":[-0.1,0.1,0.3,0.5,0.7,0.9],"labels":false,"domain":false,"title":null}}}},
{"data":{"values":[{}]},"mark":{"type":"rule","strokeDash":[5,4],"color":"black","strokeWidth":1},"encoding":{"x":{"datum":0}}},
{"data":{"name":"pd"},"mark":{"type":"point","filled":true,"stroke":"black","strokeWidth":1,"opacity":1},"encoding":{
"x":{"field":"t","type":"quantitative"},"y":{"field":"v","type":"quantitative","axis":null},
"shape":{"field":"s","type":"nominal","scale":{"domain":["NAcc","Skin","Muscle"],"range":["circle","triangle-up","square"]},"legend":null},
"size":{"field":"s","type":"nominal","scale":{"domain":["NAcc","Skin","Muscle"],"range":[18,60,55]},"legend":null},
"fill":{"field":"f","type":"nominal","scale":{"domain":[0,1],"range":["white","black"]},"legend":null}}},
{"data":{"name":"pd"},"transform":[{"filter":"false"}],"mark":{"type":"point","filled":false,"color":"black","strokeWidth":1,"size":100},"encoding":{
"x":{"field":"t","type":"quantitative"},"y":{"field":"v","type":"quantitative","axis":null},
"shape":{"field":"s","type":"nominal","scale":{"domain":["NAcc","Skin","Muscle"],"range":["M-4,0H-0.45M0.45,0H4M-0.45,0A0.45,0.45,0,1,1,0.45,0A0.45,0.45,0,1,1,-0.45,0Z","M-4,0H-0.4M0.4,0H4M-0.8,0.7L0,-0.7L0.8,0.7Z","M-4,0H-0.7M0.7,0H4M-0.7,-0.7H0.7V0.7H-0.7Z"]},"legend":{"title":null,"orient":"none","legendX":186,"legendY":134,"labelOffset":26,"rowPadding":1,"symbolSize":100,"symbolOpacity":1,"symbolStrokeColor":"black","symbolStrokeWidth":1}}}},
{"data":{"values":[{}]},"mark":{"type":"text","text":"d","fontSize":30,"fontWeight":"bold","align":"left","baseline":"middle","color":"black"},"encoding":{"x":{"datum":-17.5},"y":{"datum":0.86,"axis":null}}}
],
"resolve":{"scale":{"shape":"independent","size":"independent","fill":"independent"},"legend":{"shape":"independent"},"axis":{"y":"independent"}}}
],"spacing":56,"bounds":"flush"}
],"spacing":23},
{"width":350,"height":514,
"title":{"text":"\u00a0"},
"layer":[
{"data":{"name":"pe"},"mark":{"type":"point","shape":"circle","size":22,"filled":true,"fill":"white","stroke":"black","strokeWidth":1.2},"encoding":{
"x":{"field":"basal","type":"quantitative","scale":{"domain":[35.5,39.0],"nice":false,"zero":false},"axis":{"values":[35.5,35.75,36,36.25,36.5,36.75,37,37.25,37.5,37.75,38,38.25,38.5,38.75,39],"labelExpr":"round(datum.value*4)%2==0 ? format(datum.value,'.1f') : ''","title":"Basal\u00a0 NAcc\u00a0 temperature,°C","titlePadding":25}},
"y":{"field":"change","type":"quantitative","scale":{"domain":[-0.5,2.0],"nice":false,"zero":false},"axis":{"values":[-0.5,-0.25,0,0.25,0.5,0.75,1,1.25,1.5,1.75,2],"labelExpr":"abs(round(datum.value*4))%2==0 ? format(datum.value,'.1f') : ''","title":["NAcc temperature change during","DA receptor blockade,°C"],"titlePadding":4,"titleLineHeight":18}}}},
{"data":{"values":[{}]},"mark":{"type":"rule","strokeDash":[6,4],"color":"black","strokeWidth":1},"encoding":{"y":{"datum":0}}},
{"data":{"values":[{}]},"mark":{"type":"rule","strokeDash":[1,2],"color":"black","strokeWidth":1},"encoding":{"x":{"datum":35.5},"x2":{"datum":36.78},"y":{"datum":0.62}}},
{"data":{"values":[{}]},"mark":{"type":"rule","strokeDash":[1,2],"color":"black","strokeWidth":1},"encoding":{"x":{"datum":36.78},"y":{"datum":-0.5},"y2":{"datum":0.62}}},
{"data":{"values":[{}]},"mark":{"type":"rule","strokeDash":[6,2,1,2],"color":"black","strokeWidth":1},"encoding":{"x":{"datum":38.05},"y":{"datum":-0.5},"y2":{"datum":0}}},
{"data":{"name":"fit"},"mark":{"type":"line","color":"black","strokeWidth":1.2},"encoding":{"x":{"field":"basal","type":"quantitative"},"y":{"field":"change","type":"quantitative"}}},
{"data":{"values":[{}]},"mark":{"type":"text","text":"e","fontSize":32,"fontWeight":"bold","align":"left","baseline":"middle","color":"black"},"encoding":{"x":{"datum":35.57},"y":{"datum":1.9}}},
{"data":{"values":[{}]},"mark":{"type":"text","text":"n=33\u00a0 y=20.98-0.55x\u00a0 r=(-)0.492**","fontSize":13.5,"fontStyle":"italic","align":"left","baseline":"middle","color":"black"},"encoding":{"x":{"datum":36.63},"y":{"datum":1.87}}},
{"data":{"values":[{}]},"mark":{"type":"text","text":"+0.61-0.11°C","fontSize":13,"fontStyle":"italic","fontWeight":"bold","align":"left","baseline":"middle","color":"black"},"encoding":{"x":{"datum":35.55},"y":{"datum":0.80}}}
]}
],
"spacing":14,
"config":{
"font":"Liberation Sans",
"locale":{"number":{"decimal":".","thousands":",","grouping":[3],"currency":["$",""],"minus":"-"}},
"view":{"stroke":"black","strokeWidth":1},
"axis":{"domainColor":"black","domainWidth":1,"tickColor":"black","tickSize":4,"tickWidth":1,"labelColor":"black","labelFontSize":15,"labelPadding":2,"labelFlush":false,"labelBound":false,"titleColor":"black","titleFontSize":15,"titleFontWeight":"bold","grid":false},
"title":{"fontSize":17,"fontWeight":"bold","color":"black","offset":3},
"legend":{"labelFontSize":14,"labelColor":"black","padding":0,"symbolSize":100,"symbolStrokeWidth":1,"symbolStrokeColor":"black","symbolFillColor":"white"}
}
}
